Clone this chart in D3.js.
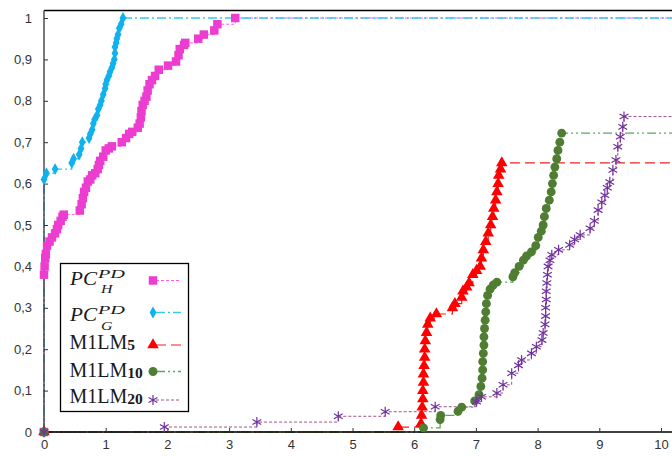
<!DOCTYPE html>
<html>
<head>
<meta charset="utf-8">
<script src="https://cdn.jsdelivr.net/npm/d3@7"></script>
<style>
  body { margin: 0; background: #fff; }
  svg { display: block; }
</style>
</head>
<body>
<div id="viz"></div>
<script>
// tick values and labels
const xTicks = [0, 1, 2, 3, 4, 5, 6, 7, 8, 9, 10];
const yTicks = [0, 0.1, 0.2, 0.3, 0.4, 0.5, 0.6, 0.7, 0.8, 0.9, 1];
const yTickLabels = ["0", "0,1", "0,2", "0,3", "0,4", "0,5", "0,6", "0,7", "0,8", "0,9", "1"];

// series as [x, cumulative fraction]
const pcH = [[0, 0], [0.00, 0.38], [0.01, 0.40], [0.02, 0.42], [0.03, 0.43], [0.05, 0.45], [0.09, 0.46], [0.13, 0.47],
  [0.18, 0.48], [0.21, 0.49], [0.23, 0.50], [0.27, 0.51], [0.30, 0.52], [0.32, 0.525], [0.58, 0.535], [0.61, 0.55],
  [0.63, 0.565], [0.65, 0.58], [0.68, 0.59], [0.71, 0.605], [0.75, 0.61], [0.78, 0.62], [0.83, 0.625], [0.87, 0.635],
  [0.89, 0.645], [0.91, 0.655], [0.96, 0.665], [1.00, 0.68], [1.05, 0.685], [1.10, 0.69], [1.26, 0.70], [1.33, 0.71],
  [1.38, 0.72], [1.43, 0.725], [1.52, 0.735], [1.55, 0.745], [1.57, 0.76], [1.58, 0.775], [1.60, 0.79], [1.63, 0.80],
  [1.66, 0.81], [1.68, 0.825], [1.71, 0.84], [1.75, 0.85], [1.80, 0.86], [1.86, 0.875], [2.01, 0.885], [2.14, 0.895],
  [2.18, 0.91], [2.20, 0.925], [2.27, 0.935], [2.29, 0.94], [2.50, 0.95], [2.59, 0.96], [2.76, 0.97], [2.81, 0.985],
  [3.10, 1.0]];

const pcG = [[0, 0], [0.00, 0.61], [0.04, 0.625], [0.18, 0.635], [0.45, 0.65], [0.48, 0.66], [0.57, 0.67], [0.60, 0.685],
  [0.62, 0.70], [0.73, 0.71], [0.75, 0.72], [0.78, 0.73], [0.80, 0.745], [0.82, 0.755], [0.86, 0.765], [0.88, 0.78],
  [0.91, 0.79], [0.93, 0.80], [0.96, 0.815], [0.99, 0.83], [1.00, 0.84], [1.02, 0.85], [1.05, 0.86], [1.07, 0.87],
  [1.10, 0.88], [1.12, 0.89], [1.14, 0.90], [1.15, 0.915], [1.15, 0.93], [1.17, 0.94], [1.18, 0.95], [1.20, 0.96],
  [1.22, 0.975], [1.25, 0.985], [1.28, 1.0]];

const m1lm5 = [[0, 0], [5.74, 0.012], [6.11, 0.02], [6.12, 0.04], [6.13, 0.06], [6.14, 0.08], [6.14, 0.10], [6.15, 0.12],
  [6.15, 0.14], [6.16, 0.16], [6.17, 0.18], [6.17, 0.20], [6.18, 0.22], [6.20, 0.24], [6.22, 0.26], [6.26, 0.275],
  [6.36, 0.285], [6.62, 0.30], [6.66, 0.31], [6.77, 0.325], [6.79, 0.34], [6.85, 0.35], [6.89, 0.36], [6.95, 0.38],
  [7.01, 0.39], [7.07, 0.40], [7.09, 0.42], [7.12, 0.44], [7.16, 0.46], [7.20, 0.48], [7.24, 0.50], [7.27, 0.52],
  [7.29, 0.54], [7.32, 0.56], [7.34, 0.58], [7.36, 0.60], [7.37, 0.62], [7.40, 0.635], [7.42, 0.65]];

const m1lm10 = [[0, 0], [6.15, 0.01], [6.42, 0.03], [6.43, 0.04], [6.71, 0.05], [6.77, 0.06], [6.98, 0.075], [7.05, 0.09],
  [7.08, 0.11], [7.10, 0.13], [7.11, 0.15], [7.11, 0.17], [7.12, 0.19], [7.13, 0.21], [7.13, 0.23], [7.14, 0.25],
  [7.15, 0.27], [7.16, 0.29], [7.17, 0.31], [7.19, 0.33], [7.23, 0.345], [7.28, 0.355], [7.34, 0.362], [7.60, 0.375],
  [7.63, 0.385], [7.70, 0.40], [7.77, 0.415], [7.82, 0.425], [7.90, 0.435], [7.97, 0.45], [8.01, 0.47], [8.06, 0.485],
  [8.09, 0.50], [8.11, 0.52], [8.14, 0.54], [8.19, 0.56], [8.22, 0.58], [8.24, 0.60], [8.26, 0.62], [8.28, 0.64],
  [8.31, 0.66], [8.33, 0.68], [8.36, 0.70], [8.39, 0.722]];

const m1lm20 = [[0, 0], [1.95, 0.012], [3.45, 0.024], [4.77, 0.038], [5.53, 0.049], [6.34, 0.061], [7.01, 0.073],
  [7.09, 0.085], [7.34, 0.094], [7.44, 0.114], [7.58, 0.142], [7.69, 0.161], [7.74, 0.174], [7.90, 0.19], [7.98, 0.206],
  [8.07, 0.222], [8.09, 0.239], [8.12, 0.26], [8.13, 0.28], [8.13, 0.30], [8.14, 0.32], [8.14, 0.34], [8.15, 0.36],
  [8.16, 0.38], [8.17, 0.40], [8.20, 0.415], [8.23, 0.428], [8.34, 0.44], [8.52, 0.452], [8.60, 0.465], [8.69, 0.476],
  [8.85, 0.492], [8.92, 0.51], [8.98, 0.536], [9.04, 0.555], [9.09, 0.572], [9.13, 0.59], [9.17, 0.604], [9.22, 0.633],
  [9.27, 0.657], [9.30, 0.689], [9.34, 0.713], [9.38, 0.737], [9.40, 0.762]];

document.addEventListener("DOMContentLoaded", () => {
  const width = 672;
  const height = 456;

  const svg = d3.select('#viz').append('svg')
    .attr('width', width)
    .attr('height', height);

  const x = d3.scaleLinear().domain([0, 10]).range([44, 661]);
  const y = d3.scaleLinear().domain([0, 1]).range([432, 18]);

  const series = [
    { data: pcH, symbol: d3.symbolSquare, size: 72, fill: '#ec3dd0', line: '#ff5ce0', dash: '3,2', lw: 1 },
    { data: pcG, symbol: d3.symbolDiamond, size: 40, fill: '#10b2ee', line: '#35c8f5', dash: '9,3,2,3', lw: 1.3 },
    { data: m1lm5, symbol: d3.symbolTriangle, size: 58, fill: '#ff0000', line: '#ee2222', dash: '10,5', lw: 1.2 },
    { data: m1lm10, symbol: d3.symbolCircle, size: 62, fill: '#4f7d32', line: '#55aa55', dash: '9,3,2,3,2,3', lw: 1.3 },
    { data: m1lm20, symbol: d3.symbolAsterisk, size: 72, stroke: '#7030a0', line: '#a05587', dash: '3,2', lw: 1 }
  ];

  const stepLine = d3.line()
    .x(d => x(d[0]))
    .y(d => y(d[1]))
    .curve(d3.curveStepAfter);

  // step lines, each carried on to the right edge at its last value
  series.forEach(s => {
    const last = s.data[s.data.length - 1];
    svg.append('path')
      .attr('d', stepLine(s.data.concat([[10.5, last[1]]])))
      .attr('fill', 'none')
      .attr('stroke', s.line)
      .attr('stroke-width', s.lw)
      .attr('stroke-dasharray', s.dash);
  });

  // axes frame
  svg.append('line').attr('x1', 44).attr('x2', width).attr('y1', 10.5).attr('y2', 10.5)
    .attr('stroke', '#000').attr('stroke-width', 1.3);

  const xAxis = svg.append('g')
    .attr('transform', `translate(0,${y(0)})`)
    .call(d3.axisBottom(x).tickValues(xTicks).tickSize(-4).tickPadding(8).tickFormat(d3.format('d')));
  xAxis.select('.domain').attr('d', `M44,0H${width}`).attr('stroke', '#000').attr('stroke-width', 1.5);

  const yAxis = svg.append('g')
    .attr('transform', `translate(${x(0)},0)`)
    .call(d3.axisLeft(y).tickValues(yTicks).tickSize(-4).tickPadding(12)
      .tickFormat((d, i) => yTickLabels[i]));
  yAxis.select('.domain').attr('d', `M0,${y(0)}V10.5`).attr('stroke', '#333').attr('stroke-width', 1.3);

  svg.selectAll('.tick text')
    .attr('font-family', 'Liberation Sans, Arial, sans-serif')
    .attr('font-size', 13)
    .attr('fill', '#333');
  svg.selectAll('.tick line').attr('stroke', '#333');

  const symbolGen = s => d3.symbol().type(s.symbol).size(s.size)();

  series.forEach(s => {
    svg.append('g').selectAll('path')
      .data(s.data)
      .enter()
      .append('path')
      .attr('transform', d => `translate(${x(d[0])},${y(d[1])})`)
      .attr('d', symbolGen(s))
      .attr('fill', s.stroke ? 'none' : s.fill)
      .attr('stroke', s.stroke || 'none')
      .attr('stroke-width', s.stroke ? 1.2 : 0);
  });

  // legend
  const legend = svg.append('g');
  legend.append('rect')
    .attr('x', 60.5).attr('y', 263.5).attr('width', 128).attr('height', 148)
    .attr('fill', '#fff').attr('stroke', '#000').attr('stroke-width', 1.3);

  const rowY = [280.5, 312.5, 345, 371.5, 400];
  const baseY = [284.7, 321.3, 349, 376.7, 402.7];
  const serif = 'Liberation Serif, Times New Roman, serif';

  // PC with superscript PD and subscript H / G, kept in one text element
  [['H', 0], ['G', 1]].forEach(([sub, i]) => {
    const t = legend.append('text')
      .attr('font-family', serif).attr('font-style', 'italic').attr('fill', '#1a1a1a');
    t.append('tspan').attr('x', 70).attr('y', baseY[i]).attr('font-size', 19.5)
      .attr('textLength', 27).attr('lengthAdjust', 'spacingAndGlyphs').text('PC');
    t.append('tspan').attr('x', 98).attr('y', baseY[i] - 7).attr('font-size', 13)
      .attr('textLength', 27).attr('lengthAdjust', 'spacingAndGlyphs').text('PD');
    t.append('tspan').attr('x', 101).attr('y', baseY[i] + 8.2).attr('font-size', 12.5)
      .attr('textLength', 11.5).attr('lengthAdjust', 'spacingAndGlyphs').text(sub);
  });

  [['5', 2], ['10', 3], ['20', 4]].forEach(([sub, i]) => {
    const t = legend.append('text').attr('x', 69.5).attr('y', baseY[i])
      .attr('font-family', serif).attr('font-size', 20).attr('fill', '#1a1a1a');
    t.append('tspan').text('M1LM');
    t.append('tspan').attr('font-size', 15.5).attr('font-weight', 'bold').attr('dy', 1).text(sub);
  });

  series.forEach((s, i) => {
    legend.append('line')
      .attr('x1', 156).attr('x2', 181).attr('y1', rowY[i]).attr('y2', rowY[i])
      .attr('stroke', s.line).attr('stroke-width', s.lw).attr('stroke-dasharray', s.dash);
    legend.append('path')
      .attr('transform', `translate(153,${rowY[i]})`)
      .attr('d', symbolGen(s))
      .attr('fill', s.stroke ? 'none' : s.fill)
      .attr('stroke', s.stroke || 'none')
      .attr('stroke-width', s.stroke ? 1.2 : 0);
  });
});
</script>
</body>
</html>
